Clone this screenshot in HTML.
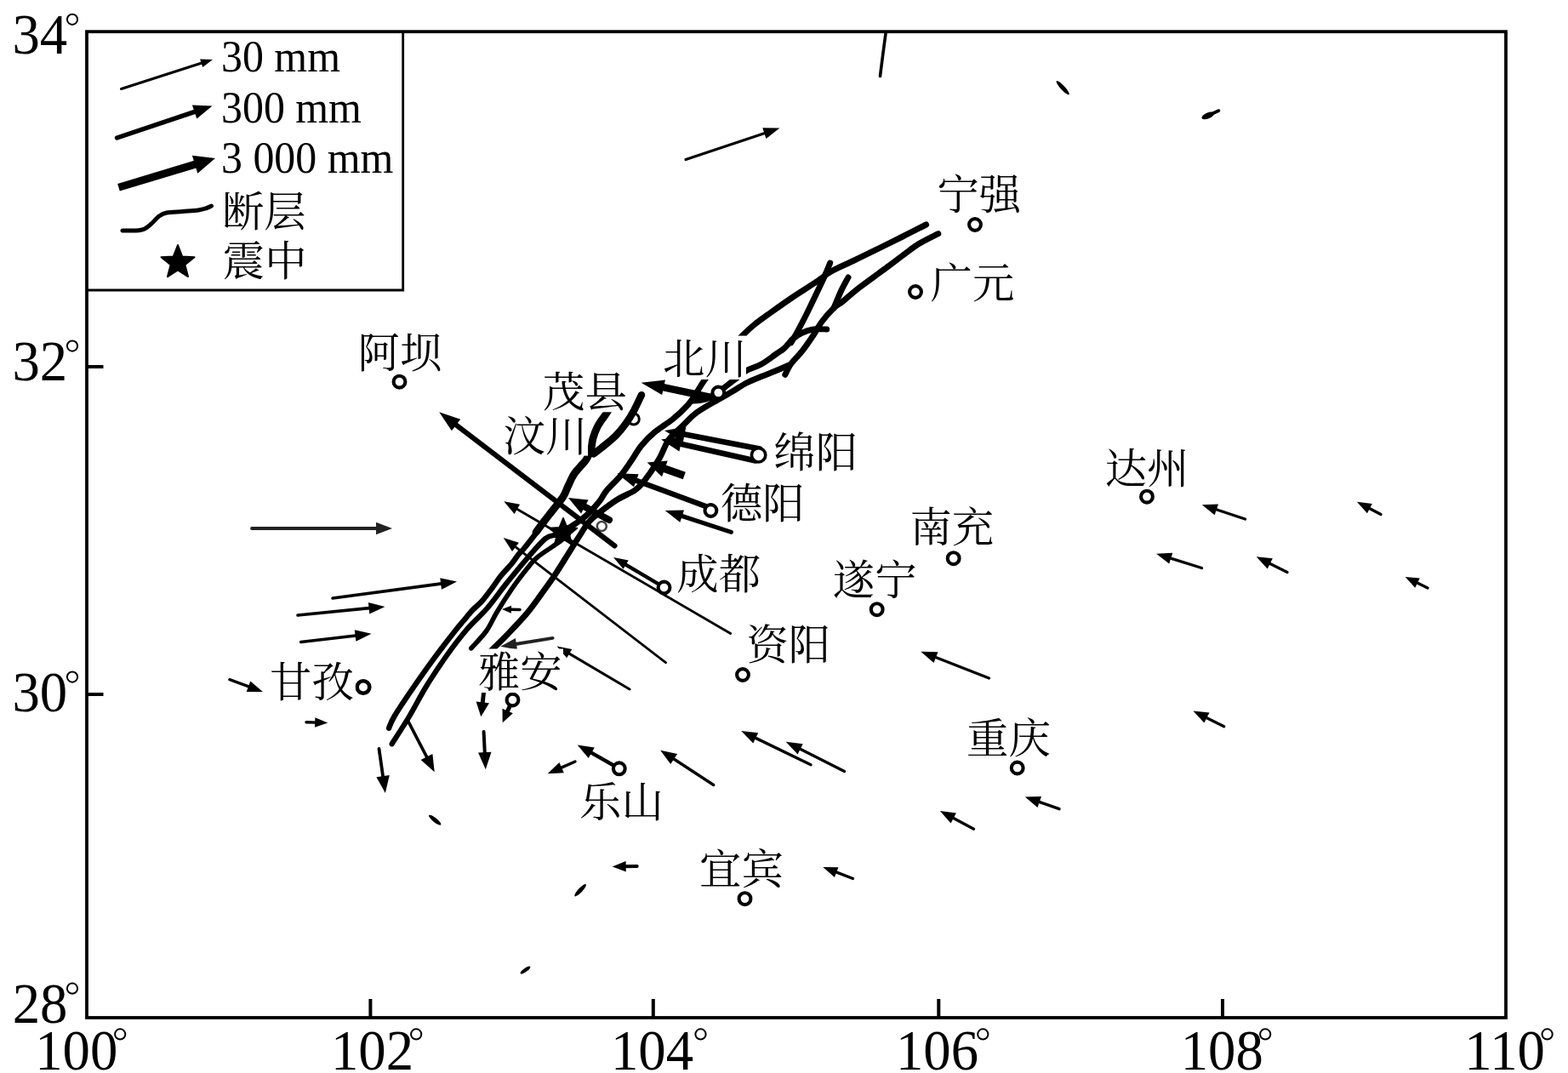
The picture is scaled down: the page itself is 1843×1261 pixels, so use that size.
<!DOCTYPE html>
<html><head><meta charset="utf-8"><title>GPS displacement map</title><style>html,body{margin:0;padding:0;background:#fff}svg{display:block}</style></head><body><svg width="1843" height="1261" viewBox="0 0 1843 1261"><defs><filter id="soft" x="0" y="0" width="1843" height="1261" filterUnits="userSpaceOnUse"><feGaussianBlur stdDeviation="0.7"/></filter></defs><rect x="102" y="37.2" width="1668" height="1158.8" fill="none" stroke="#000" stroke-width="3.8"/>
<line x1="103" y1="431" x2="121.5" y2="431" stroke="#000" stroke-width="4"/>
<line x1="103" y1="816" x2="121.5" y2="816" stroke="#000" stroke-width="4"/>
<line x1="435.4" y1="1174" x2="435.4" y2="1195" stroke="#000" stroke-width="4"/>
<line x1="767.8" y1="1174" x2="767.8" y2="1195" stroke="#000" stroke-width="4"/>
<line x1="1103.3" y1="1174" x2="1103.3" y2="1195" stroke="#000" stroke-width="4"/>
<line x1="1437" y1="1174" x2="1437" y2="1195" stroke="#000" stroke-width="4"/>
<text x="0" y="0" transform="translate(14.4,63.2) scale(0.952,1)" font-size="68" font-family="'Liberation Serif',serif" fill="#000">34</text>
<circle cx="85.0" cy="22.8" r="6.1" fill="none" stroke="#000" stroke-width="2.0"/>
<text x="0" y="0" transform="translate(14.4,447.3) scale(0.952,1)" font-size="68" font-family="'Liberation Serif',serif" fill="#000">32</text>
<circle cx="85.0" cy="406.6" r="6.1" fill="none" stroke="#000" stroke-width="2.0"/>
<text x="0" y="0" transform="translate(14.4,836.0) scale(0.952,1)" font-size="68" font-family="'Liberation Serif',serif" fill="#000">30</text>
<circle cx="85.0" cy="795.6" r="6.1" fill="none" stroke="#000" stroke-width="2.0"/>
<text x="0" y="0" transform="translate(14.7,1202.0) scale(0.952,1)" font-size="68" font-family="'Liberation Serif',serif" fill="#000">28</text>
<circle cx="85.0" cy="1161.7" r="6.1" fill="none" stroke="#000" stroke-width="2.0"/>
<text x="0" y="0" transform="translate(41.2,1256.5) scale(0.952,1)" font-size="68" font-family="'Liberation Serif',serif" fill="#000">100</text>
<circle cx="141.2" cy="1215.4" r="6.1" fill="none" stroke="#000" stroke-width="2.0"/>
<text x="0" y="0" transform="translate(389.0,1256.5) scale(0.952,1)" font-size="68" font-family="'Liberation Serif',serif" fill="#000">102</text>
<circle cx="489.2" cy="1215.4" r="6.1" fill="none" stroke="#000" stroke-width="2.0"/>
<text x="0" y="0" transform="translate(718.0,1256.5) scale(0.952,1)" font-size="68" font-family="'Liberation Serif',serif" fill="#000">104</text>
<circle cx="823.5" cy="1215.4" r="6.1" fill="none" stroke="#000" stroke-width="2.0"/>
<text x="0" y="0" transform="translate(1053.0,1256.5) scale(0.952,1)" font-size="68" font-family="'Liberation Serif',serif" fill="#000">106</text>
<circle cx="1155.3" cy="1215.4" r="6.1" fill="none" stroke="#000" stroke-width="2.0"/>
<text x="0" y="0" transform="translate(1387.7,1256.5) scale(0.952,1)" font-size="68" font-family="'Liberation Serif',serif" fill="#000">108</text>
<circle cx="1487.2" cy="1215.4" r="6.1" fill="none" stroke="#000" stroke-width="2.0"/>
<text x="0" y="0" transform="translate(1721.3,1256.5) scale(0.952,1)" font-size="68" font-family="'Liberation Serif',serif" fill="#000">110</text>
<circle cx="1818.6" cy="1215.4" r="6.1" fill="none" stroke="#000" stroke-width="2.0"/>
<path d="M473.7,37 L473.7,341 L102,341" fill="none" stroke="#000" stroke-width="2.8"/>
<line x1="142.5" y1="104.5" x2="238.7" y2="73.6" stroke="#000" stroke-width="3.1" stroke-linecap="round"/><polygon points="250.0,70.0 238.2,79.0 235.1,69.5" fill="#000"/>
<line x1="137.5" y1="162.0" x2="231.8" y2="130.4" stroke="#000" stroke-width="5.4" stroke-linecap="round"/><polygon points="249.5,124.5 231.3,139.5 225.9,123.4" fill="#000"/>
<line x1="139.5" y1="220.3" x2="232.7" y2="192.1" stroke="#000" stroke-width="9" stroke-linecap="butt"/><polygon points="253.0,186.0 232.3,203.8 225.9,182.7" fill="#000"/>
<path d="M144.0,271.0 C146.7,271.0 155.7,271.3 160.0,271.0 C164.3,270.7 166.8,270.5 170.0,269.0 C173.2,267.5 176.2,264.5 179.0,262.0 C181.8,259.5 184.2,256.0 187.0,254.0 C189.8,252.0 191.3,250.9 196.0,250.0 C200.7,249.1 208.8,249.0 215.0,248.5 C221.2,248.0 228.3,247.7 233.0,247.0 C237.7,246.3 240.4,245.3 243.0,244.5 C245.6,243.7 247.6,242.4 248.5,242.0" fill="none" stroke="#000" stroke-width="5" stroke-linecap="round" stroke-linejoin="round"/>
<polygon points="209.0,288.0 214.2,301.4 228.5,302.2 217.4,311.2 221.0,325.1 209.0,317.3 197.0,325.1 200.6,311.2 189.5,302.2 203.8,301.4" fill="#000" stroke="#000" stroke-width="2" stroke-linejoin="round"/>
<text x="0" y="0" transform="translate(260,83.7) scale(0.956,1)" font-size="52.2" font-family="'Liberation Serif',serif" fill="#000">30 mm</text>
<text x="0" y="0" transform="translate(260,143.7) scale(0.956,1)" font-size="52.2" font-family="'Liberation Serif',serif" fill="#000">300 mm</text>
<text x="0" y="0" transform="translate(260,203) scale(0.956,1)" font-size="52.2" font-family="'Liberation Serif',serif" fill="#000">3 000 mm</text>
<rect x="261.7" y="221.0" width="99.8" height="51.5" fill="#fff"/>
<text x="260.9" y="265.5" font-size="49.4" font-family="'Liberation Serif','Noto Serif CJK SC',serif" fill="#000">断层</text>
<rect x="261.7" y="278.5" width="99.8" height="54.0" fill="#fff"/>
<text x="261.8" y="324.4" font-size="49.4" font-family="'Liberation Serif','Noto Serif CJK SC',serif" fill="#000">震中</text>
<g filter="url(#soft)">
<circle cx="744.8" cy="492.5" r="6.5" fill="#fff" stroke="#000" stroke-width="3"/>
<circle cx="707.3" cy="618.5" r="5.5" fill="none" stroke="#444" stroke-width="2.6"/>
<path d="M1088.6,264.0 C1083.8,266.4 1069.9,273.6 1060.0,278.5 C1050.1,283.4 1038.9,288.9 1029.4,293.6 C1019.9,298.3 1011.7,302.3 1003.0,306.5 C994.3,310.7 984.4,314.8 977.0,319.0 C969.6,323.2 966.5,326.5 958.8,331.7 C951.1,336.9 939.6,343.9 930.6,350.0 C921.6,356.1 912.4,362.7 905.0,368.0 C897.6,373.3 891.5,377.6 886.2,381.9 C880.9,386.2 877.7,389.3 873.0,394.0 C868.3,398.7 863.0,404.3 858.0,410.0 C853.0,415.7 847.9,422.0 843.0,428.0 C838.1,434.0 832.9,440.1 828.6,446.0 C824.3,451.9 820.6,458.6 817.3,463.6 C813.9,468.6 812.9,471.0 808.5,475.8 C804.1,480.6 797.6,487.0 791.0,492.4 C784.4,497.8 775.2,503.0 769.0,508.2 C762.8,513.4 758.3,518.2 753.8,523.8 C749.3,529.4 745.8,535.9 741.8,541.8 C737.8,547.7 734.3,553.2 729.5,559.0 C724.7,564.8 717.1,571.5 713.0,576.5 C708.9,581.5 708.4,584.3 705.0,588.7 C701.6,593.1 696.3,599.0 692.5,602.8 C688.7,606.6 686.1,608.5 682.0,611.5 C677.9,614.5 670.3,619.4 668.0,621.0" fill="none" stroke="#000" stroke-width="7" stroke-linecap="round" stroke-linejoin="round"/>
<path d="M1102.8,274.6 C1099.0,276.6 1087.1,282.2 1080.0,286.6 C1072.9,291.0 1066.1,296.5 1060.0,301.0 C1053.9,305.5 1051.8,307.2 1043.5,313.4 C1035.2,319.6 1018.8,331.2 1010.0,338.0 C1001.2,344.8 995.9,350.0 990.9,354.0 C985.9,358.0 984.1,358.0 980.0,362.0 C975.9,366.0 970.0,372.7 966.0,378.0 C962.0,383.3 959.8,388.3 956.0,394.0 C952.2,399.7 947.3,406.8 943.0,412.4 C938.7,417.9 933.4,422.6 930.0,427.3 C926.6,432.0 924.0,438.1 922.8,440.3" fill="none" stroke="#000" stroke-width="7" stroke-linecap="round" stroke-linejoin="round"/>
<path d="M997.0,326.0 C995.7,328.5 991.8,335.0 989.0,341.0 C986.2,347.0 981.5,358.5 980.0,362.0" fill="none" stroke="#000" stroke-width="7" stroke-linecap="round" stroke-linejoin="round"/>
<path d="M975.7,309.0 C974.6,311.7 971.3,319.8 969.0,325.0 C966.7,330.2 965.6,332.4 962.0,340.0 C958.4,347.6 951.5,362.1 947.3,370.5 C943.1,378.9 939.7,385.2 936.8,390.6 C933.9,396.0 931.0,400.8 929.8,402.8" fill="none" stroke="#000" stroke-width="7" stroke-linecap="round" stroke-linejoin="round"/>
<path d="M971.7,387.0 C969.1,387.0 961.0,386.2 956.0,387.0 C951.0,387.8 946.1,389.6 942.0,391.5 C937.9,393.4 934.1,396.3 931.5,398.5 C928.9,400.7 928.0,402.6 926.3,404.5 C924.5,406.4 923.3,408.1 921.0,410.0 C918.7,411.9 916.8,413.0 912.4,416.0 C908.0,419.0 900.7,424.8 894.9,428.0 C889.1,431.2 882.5,432.7 877.5,435.5 C872.5,438.3 869.2,441.8 865.0,445.0 C860.8,448.2 855.5,452.2 852.0,455.0 C848.5,457.8 847.0,459.4 844.0,461.5 C841.0,463.6 837.7,466.0 834.0,467.5 C830.3,469.0 825.4,469.9 822.0,470.5 C818.6,471.1 814.9,470.9 813.5,471.0" fill="none" stroke="#000" stroke-width="7" stroke-linecap="round" stroke-linejoin="round"/>
<path d="M926.3,429.5 C924.0,430.5 917.6,433.3 912.4,435.5 C907.2,437.7 900.7,440.1 894.9,442.5 C889.1,444.9 883.1,447.1 877.5,450.0 C871.9,452.9 867.4,456.2 861.0,460.0 C854.6,463.8 846.3,468.2 839.0,472.5 C831.7,476.8 823.3,481.4 817.3,486.0 C811.3,490.6 808.2,494.7 803.0,499.8 C797.8,504.9 790.7,510.1 786.0,516.7 C781.3,523.3 779.4,531.3 774.7,539.3 C770.0,547.3 762.4,558.6 757.7,564.7 C753.0,570.8 751.9,572.2 746.5,576.0 C741.1,579.8 732.4,582.8 725.3,587.3 C718.2,591.8 709.6,598.4 704.0,602.8 C698.4,607.2 695.7,609.0 691.7,613.9 C687.7,618.8 683.8,625.7 679.8,631.9 C675.8,638.1 672.2,644.0 667.8,651.0 C663.4,658.0 658.0,666.8 653.4,673.8 C648.8,680.8 645.6,685.3 640.0,693.0 C634.4,700.7 627.4,711.1 620.0,720.0 C612.6,728.9 602.4,739.3 595.7,746.3 C589.0,753.3 584.3,757.6 580.0,761.9 C575.7,766.2 571.7,770.3 570.0,772.0" fill="none" stroke="#000" stroke-width="7" stroke-linecap="round" stroke-linejoin="round"/>
<path d="M722.0,470.0 C720.7,472.3 716.5,480.0 714.0,484.0 C711.5,488.0 709.0,490.8 707.0,493.9 C705.0,496.9 703.5,498.8 701.8,502.3 C700.1,505.8 698.2,510.8 697.0,515.0 C695.8,519.2 696.0,523.6 694.8,527.7 C693.5,531.8 691.2,536.4 689.5,539.4 C687.8,542.4 686.7,543.1 684.5,545.7 C682.3,548.3 678.5,552.2 676.5,554.8 C674.5,557.3 674.1,558.2 672.6,561.0 C671.1,563.8 669.3,567.9 667.5,571.7 C665.7,575.5 664.8,579.4 661.8,584.0 C658.8,588.6 653.4,594.8 649.8,599.5 C646.2,604.2 643.3,607.7 640.0,612.0 C636.7,616.3 631.7,623.2 630.0,625.5" fill="none" stroke="#000" stroke-width="8.8" stroke-linecap="round" stroke-linejoin="round"/>
<path d="M640.0,612.0 C638.4,614.3 634.5,620.6 630.5,626.0 C626.5,631.4 619.5,640.2 616.0,644.5 C612.5,648.8 612.0,648.4 609.5,651.5 C607.0,654.6 604.5,658.8 601.0,663.0 C597.5,667.2 592.2,672.3 588.5,677.0 C584.8,681.7 582.2,686.1 578.5,691.0 C574.8,695.9 570.4,702.2 566.5,706.5 C562.6,710.8 559.1,713.1 555.4,717.0 C551.7,720.9 547.7,726.1 544.4,730.0 C541.1,733.9 541.2,733.4 535.8,740.3 C530.4,747.2 519.9,760.6 511.9,771.4 C503.9,782.2 495.9,793.4 487.9,805.0 C479.9,816.6 469.1,832.5 464.0,841.0 C458.9,849.5 458.2,853.2 457.1,855.7" fill="none" stroke="#000" stroke-width="6.4" stroke-linecap="round" stroke-linejoin="round"/>
<path d="M754.0,464.2 C752.6,467.1 748.4,476.3 745.4,481.9 C742.4,487.4 739.4,492.5 735.8,497.5 C732.2,502.5 728.6,507.1 723.8,511.9 C719.0,516.7 711.4,522.6 707.0,526.2 C702.6,529.8 699.2,532.2 697.6,533.4" fill="none" stroke="#000" stroke-width="8.5" stroke-linecap="round" stroke-linejoin="round"/>
<path d="M668.0,620.0 C665.8,621.3 659.5,625.8 655.0,628.0 C650.5,630.2 647.1,628.1 641.0,633.0 C634.9,637.9 626.2,648.7 618.5,657.5 C610.8,666.3 602.8,676.3 595.0,686.0 C587.2,695.7 579.6,706.7 572.0,715.5 C564.4,724.3 557.1,729.9 549.3,739.0 C541.5,748.1 533.3,758.8 525.3,770.0 C517.3,781.2 508.8,794.0 501.4,806.0 C494.0,818.0 487.8,830.6 481.0,842.0 C474.2,853.4 464.0,868.9 460.6,874.3" fill="none" stroke="#000" stroke-width="6.2" stroke-linecap="round" stroke-linejoin="round"/>
<path d="M668.0,628.0 C666.3,629.4 664.0,632.2 658.0,636.6 C652.0,641.0 638.2,649.4 631.9,654.6 C625.5,659.8 624.9,661.6 619.9,667.8 C614.9,674.0 607.9,683.0 601.9,691.7 C595.9,700.4 588.7,711.7 583.7,720.0 C578.7,728.3 576.7,734.5 571.7,741.5 C566.7,748.5 556.8,758.5 553.8,761.9" fill="none" stroke="#000" stroke-width="5.6" stroke-linecap="round" stroke-linejoin="round"/>
<path d="M1041.0,39.5 C1040.5,43.2 1039.1,53.7 1038.0,62.0 C1036.9,70.3 1035.1,84.9 1034.5,89.5" fill="none" stroke="#000" stroke-width="3.6" stroke-linecap="round" stroke-linejoin="round"/>
<line x1="806.0" y1="187.5" x2="901.1" y2="155.7" stroke="#000" stroke-width="3.2" stroke-linecap="round"/><polygon points="916.4,150.5 900.5,163.0 896.3,150.2" fill="#000"/>
<line x1="296.0" y1="621.0" x2="444.9" y2="621.0" stroke="#222" stroke-width="3.8" stroke-linecap="round"/><polygon points="461.0,621.0 442.0,628.2 442.0,613.8" fill="#222"/>
<line x1="391.0" y1="703.0" x2="521.0" y2="685.6" stroke="#000" stroke-width="3.6" stroke-linecap="round"/><polygon points="537.0,683.5 519.0,692.7 517.3,679.3" fill="#000"/>
<line x1="350.0" y1="723.0" x2="436.4" y2="714.4" stroke="#000" stroke-width="3.6" stroke-linecap="round"/><polygon points="452.5,712.9 434.3,721.4 432.9,708.0" fill="#000"/>
<line x1="353.7" y1="754.5" x2="420.4" y2="746.7" stroke="#000" stroke-width="3.6" stroke-linecap="round"/><polygon points="436.5,744.8 418.4,753.7 416.8,740.3" fill="#000"/>
<line x1="270.0" y1="798.7" x2="294.5" y2="807.7" stroke="#000" stroke-width="3.4" stroke-linecap="round"/><polygon points="308.9,813.0 289.7,813.1 294.3,800.5" fill="#000"/>
<line x1="360.0" y1="848.7" x2="372.5" y2="849.1" stroke="#000" stroke-width="3.4" stroke-linecap="round"/><polygon points="385.2,849.6 370.0,854.8 370.4,843.3" fill="#000"/>
<line x1="445.5" y1="880.0" x2="450.5" y2="915.2" stroke="#000" stroke-width="3.8" stroke-linecap="round"/><polygon points="452.9,932.0 442.4,913.3 457.8,911.1" fill="#000"/>
<line x1="479.9" y1="847.9" x2="502.9" y2="892.2" stroke="#000" stroke-width="3.6" stroke-linecap="round"/><polygon points="510.7,907.3 494.6,893.1 508.4,886.0" fill="#000"/>
<line x1="568.5" y1="814.4" x2="567.0" y2="827.8" stroke="#000" stroke-width="4.9" stroke-linecap="round"/><polygon points="565.3,842.2 559.6,824.4 575.0,826.2" fill="#000"/>
<line x1="568.6" y1="860.0" x2="569.9" y2="887.2" stroke="#000" stroke-width="4.0" stroke-linecap="round"/><polygon points="570.8,904.2 562.1,884.6 577.5,883.8" fill="#000"/>
<line x1="600.0" y1="828.0" x2="595.8" y2="837.6" stroke="#000" stroke-width="4.9" stroke-linecap="round"/><polygon points="590.7,849.3 590.5,832.8 602.9,838.2" fill="#000"/>
<line x1="676.0" y1="895.0" x2="657.6" y2="903.1" stroke="#000" stroke-width="3.4" stroke-linecap="round"/><polygon points="643.6,909.3 657.4,895.9 662.8,908.2" fill="#000"/>
<line x1="727.5" y1="903.0" x2="692.8" y2="883.4" stroke="#000" stroke-width="4.4" stroke-linecap="round"/><polygon points="678.7,875.5 698.8,878.5 691.7,891.1" fill="#000"/>
<line x1="838.7" y1="922.5" x2="789.8" y2="890.5" stroke="#000" stroke-width="3.4" stroke-linecap="round"/><polygon points="776.2,881.7 796.1,886.0 788.2,898.1" fill="#000"/>
<line x1="953.0" y1="898.7" x2="885.7" y2="866.1" stroke="#000" stroke-width="3.4" stroke-linecap="round"/><polygon points="871.2,859.0 891.2,861.3 885.3,873.4" fill="#000"/>
<line x1="992.5" y1="906.5" x2="938.1" y2="879.1" stroke="#000" stroke-width="3.4" stroke-linecap="round"/><polygon points="923.7,871.8 943.7,874.3 937.6,886.4" fill="#000"/>
<line x1="1162.5" y1="797.0" x2="1097.3" y2="771.5" stroke="#000" stroke-width="3.4" stroke-linecap="round"/><polygon points="1082.3,765.7 1102.5,766.3 1097.5,778.9" fill="#000"/>
<line x1="1144.5" y1="974.2" x2="1118.4" y2="960.2" stroke="#000" stroke-width="3.4" stroke-linecap="round"/><polygon points="1104.9,953.0 1123.9,955.5 1117.6,967.4" fill="#000"/>
<line x1="1245.0" y1="950.7" x2="1219.2" y2="941.6" stroke="#000" stroke-width="3.4" stroke-linecap="round"/><polygon points="1204.8,936.5 1224.0,936.1 1219.5,948.9" fill="#000"/>
<line x1="1463.5" y1="610.0" x2="1427.3" y2="598.0" stroke="#000" stroke-width="3.4" stroke-linecap="round"/><polygon points="1412.8,593.2 1432.0,592.5 1427.7,605.3" fill="#000"/>
<line x1="1623.0" y1="604.5" x2="1607.7" y2="596.5" stroke="#000" stroke-width="3.4" stroke-linecap="round"/><polygon points="1594.9,589.8 1612.8,592.1 1607.0,603.2" fill="#000"/>
<line x1="1513.0" y1="672.5" x2="1490.3" y2="661.2" stroke="#000" stroke-width="3.4" stroke-linecap="round"/><polygon points="1476.7,654.3 1495.8,656.3 1489.7,668.4" fill="#000"/>
<line x1="1678.0" y1="691.0" x2="1663.9" y2="684.0" stroke="#000" stroke-width="3.4" stroke-linecap="round"/><polygon points="1651.7,678.0 1668.8,679.5 1663.3,690.7" fill="#000"/>
<line x1="1412.5" y1="667.5" x2="1373.7" y2="655.3" stroke="#000" stroke-width="3.4" stroke-linecap="round"/><polygon points="1359.1,650.8 1378.3,649.7 1374.2,662.6" fill="#000"/>
<line x1="1438.7" y1="853.7" x2="1416.0" y2="842.4" stroke="#000" stroke-width="3.4" stroke-linecap="round"/><polygon points="1402.4,835.5 1421.5,837.5 1415.4,849.6" fill="#000"/>
<line x1="1002.5" y1="1032.5" x2="980.8" y2="1024.1" stroke="#000" stroke-width="3.4" stroke-linecap="round"/><polygon points="967.3,1019.0 985.4,1019.2 980.9,1030.9" fill="#000"/>
<line x1="748.7" y1="1018.0" x2="733.3" y2="1018.3" stroke="#000" stroke-width="4.0" stroke-linecap="round"/><polygon points="719.7,1018.5 735.6,1012.0 735.8,1024.5" fill="#000"/>
<line x1="649.6" y1="749.9" x2="604.2" y2="757.2" stroke="#222" stroke-width="4.0" stroke-linecap="round"/><polygon points="588.2,759.7 605.9,750.1 608.0,763.4" fill="#222"/>
<line x1="611.0" y1="716.5" x2="599.3" y2="716.2" stroke="#000" stroke-width="3.6" stroke-linecap="round"/><polygon points="590.0,716.0 601.1,711.8 600.9,720.8" fill="#000"/>
<line x1="858.7" y1="744.5" x2="605.5" y2="597.0" stroke="#000" stroke-width="2.8" stroke-linecap="round"/><polygon points="592.3,589.3 611.1,592.7 604.6,604.0" fill="#000"/>
<line x1="782.5" y1="778.7" x2="603.8" y2="641.2" stroke="#000" stroke-width="2.8" stroke-linecap="round"/><polygon points="591.7,631.9 609.9,637.7 602.0,648.0" fill="#000"/>
<line x1="740.0" y1="810.0" x2="667.0" y2="766.9" stroke="#000" stroke-width="3" stroke-linecap="round"/><polygon points="654.6,759.5 672.3,763.0 666.2,773.3" fill="#000"/>
<line x1="781.0" y1="690.5" x2="733.4" y2="662.4" stroke="#000" stroke-width="4.4" stroke-linecap="round"/><polygon points="721.0,655.0 738.7,658.5 732.6,668.8" fill="#000"/>
<line x1="722.5" y1="641.5" x2="533.1" y2="497.2" stroke="#000" stroke-width="6" stroke-linecap="round"/><polygon points="516.2,484.3 541.2,492.7 530.9,506.2" fill="#000"/>
<line x1="716.0" y1="611.0" x2="684.4" y2="593.9" stroke="#000" stroke-width="8" stroke-linecap="round"/><polygon points="668.0,585.0 691.6,587.6 683.1,603.4" fill="#000"/>
<line x1="804.3" y1="559.0" x2="778.2" y2="549.8" stroke="#000" stroke-width="9" stroke-linecap="butt"/><polygon points="760.6,543.5 784.7,541.4 778.0,560.3" fill="#000"/>
<line x1="835.4" y1="597.3" x2="744.4" y2="563.4" stroke="#000" stroke-width="6.4" stroke-linecap="round"/><polygon points="725.3,556.3 750.6,557.2 745.0,572.2" fill="#000"/>
<line x1="859.4" y1="625.4" x2="798.7" y2="605.5" stroke="#000" stroke-width="5" stroke-linecap="round"/><polygon points="781.7,600.0 804.0,599.4 799.3,613.7" fill="#000"/>
<line x1="893.0" y1="527.5" x2="801.0" y2="509.8" stroke="#000" stroke-width="6.6" stroke-linecap="round"/><polygon points="781.0,506.0 806.3,501.7 802.9,519.4" fill="#000"/>
<line x1="888.0" y1="541.5" x2="796.9" y2="521.0" stroke="#000" stroke-width="6.6" stroke-linecap="round"/><polygon points="777.0,516.5 802.4,513.0 798.4,530.6" fill="#000"/>
<line x1="838.0" y1="467.5" x2="776.1" y2="454.4" stroke="#000" stroke-width="8.5" stroke-linecap="round"/><polygon points="753.6,449.7 781.9,446.5 778.2,464.1" fill="#000"/>
<ellipse cx="1249.2" cy="103.2" rx="10.9" ry="2.5" transform="rotate(47.0 1249.2 103.2)" fill="#000"/>
<ellipse cx="1419.8" cy="135.9" rx="7.8" ry="3.5" transform="rotate(-23.4 1419.8 135.9)" fill="#000"/>
<path d="M1424.0,134.0 L1432.5,130.0" fill="none" stroke="#000" stroke-width="3.6" stroke-linecap="round" stroke-linejoin="round"/>
<ellipse cx="511.2" cy="963.7" rx="9.0" ry="2.5" transform="rotate(38.7 511.2 963.7)" fill="#000"/>
<ellipse cx="682.1" cy="1046.2" rx="9.6" ry="2.5" transform="rotate(-46.7 682.1 1046.2)" fill="#000"/>
<ellipse cx="617.5" cy="1140.0" rx="7.1" ry="2.2" transform="rotate(-35.0 617.5 1140.0)" fill="#000"/>
<polygon points="662.0,609.0 666.4,619.9 678.2,620.7 669.1,628.3 672.0,639.8 662.0,633.5 652.0,639.8 654.9,628.3 645.8,620.7 657.6,619.9" fill="#000" stroke="#000" stroke-width="2" stroke-linejoin="round"/>
<circle cx="1146.0" cy="264.0" r="6.9" fill="#fff" stroke="#000" stroke-width="4.1"/>
<circle cx="1076.0" cy="343.0" r="6.9" fill="#fff" stroke="#000" stroke-width="4.1"/>
<circle cx="469.5" cy="448.7" r="6.9" fill="#fff" stroke="#000" stroke-width="4.1"/>
<circle cx="1348.0" cy="583.7" r="6.9" fill="#fff" stroke="#000" stroke-width="4.1"/>
<circle cx="1120.7" cy="656.2" r="6.9" fill="#fff" stroke="#000" stroke-width="4.1"/>
<circle cx="1030.7" cy="716.2" r="6.9" fill="#fff" stroke="#000" stroke-width="4.1"/>
<circle cx="873.0" cy="793.0" r="6.9" fill="#fff" stroke="#000" stroke-width="4.1"/>
<circle cx="780.5" cy="690.5" r="6.9" fill="#fff" stroke="#000" stroke-width="4.1"/>
<circle cx="1195.7" cy="902.5" r="6.9" fill="#fff" stroke="#000" stroke-width="4.1"/>
<circle cx="727.8" cy="903.3" r="6.9" fill="#fff" stroke="#000" stroke-width="4.1"/>
<circle cx="875.5" cy="1056.2" r="6.9" fill="#fff" stroke="#000" stroke-width="4.1"/>
<circle cx="602.5" cy="822.5" r="6.9" fill="#fff" stroke="#000" stroke-width="4.1"/>
<circle cx="835.4" cy="600.0" r="6.9" fill="#fff" stroke="#000" stroke-width="4.1"/>
<circle cx="844.3" cy="461.5" r="6.9" fill="#fff" stroke="#000" stroke-width="4.1"/>
<circle cx="427.0" cy="807.5" r="7.3" fill="#fff" stroke="#000" stroke-width="4.6"/>
<circle cx="891.6" cy="534.8" r="8.2" fill="#fff" stroke="#000" stroke-width="3.6"/>
</g>
<rect x="1101.7" y="200.5" width="100.3" height="53.3" fill="#fff"/>
<text x="1101.4" y="246.0" font-size="49.4" font-family="'Liberation Serif','Noto Serif CJK SC',serif" fill="#000">宁强</text>
<rect x="1093.0" y="304.2" width="102.0" height="53.6" fill="#fff"/>
<text x="1093.6" y="349.9" font-size="49.4" font-family="'Liberation Serif','Noto Serif CJK SC',serif" fill="#000">广元</text>
<rect x="422.5" y="387.0" width="99.5" height="52.3" fill="#fff"/>
<text x="420.6" y="431.6" font-size="49.4" font-family="'Liberation Serif','Noto Serif CJK SC',serif" fill="#000">阿坝</text>
<rect x="779.0" y="394.6" width="98.0" height="51.4" fill="#fff"/>
<text x="779.1" y="439.0" font-size="49.4" font-family="'Liberation Serif','Noto Serif CJK SC',serif" fill="#000">北川</text>
<rect x="636.0" y="433.0" width="101.0" height="51.3" fill="#fff"/>
<text x="638.1" y="477.7" font-size="49.4" font-family="'Liberation Serif','Noto Serif CJK SC',serif" fill="#000">茂县</text>
<rect x="590.0" y="484.3" width="101.0" height="51.3" fill="#fff"/>
<text x="591.6" y="530.2" font-size="49.4" font-family="'Liberation Serif','Noto Serif CJK SC',serif" fill="#000">汶川</text>
<rect x="910.5" y="503.5" width="97.2" height="52.8" fill="#fff"/>
<text x="909.3" y="548.9" font-size="49.4" font-family="'Liberation Serif','Noto Serif CJK SC',serif" fill="#000">绵阳</text>
<rect x="848.0" y="564.7" width="97.0" height="51.6" fill="#fff"/>
<text x="846.9" y="609.4" font-size="49.4" font-family="'Liberation Serif','Noto Serif CJK SC',serif" fill="#000">德阳</text>
<rect x="795.0" y="647.0" width="101.5" height="52.8" fill="#fff"/>
<text x="795.3" y="692.1" font-size="49.4" font-family="'Liberation Serif','Noto Serif CJK SC',serif" fill="#000">成都</text>
<rect x="1070.5" y="592.0" width="99.5" height="52.8" fill="#fff"/>
<text x="1069.4" y="637.4" font-size="49.4" font-family="'Liberation Serif','Noto Serif CJK SC',serif" fill="#000">南充</text>
<rect x="979.0" y="653.5" width="100.0" height="52.8" fill="#fff"/>
<text x="978.8" y="698.8" font-size="49.4" font-family="'Liberation Serif','Noto Serif CJK SC',serif" fill="#000">遂宁</text>
<rect x="879.0" y="729.7" width="97.5" height="52.8" fill="#fff"/>
<text x="877.4" y="775.2" font-size="49.4" font-family="'Liberation Serif','Noto Serif CJK SC',serif" fill="#000">资阳</text>
<rect x="560.0" y="762.5" width="102.0" height="51.5" fill="#fff"/>
<text x="561.9" y="806.7" font-size="49.4" font-family="'Liberation Serif','Noto Serif CJK SC',serif" fill="#000">雅安</text>
<rect x="318.0" y="773.5" width="99.7" height="52.8" fill="#fff"/>
<text x="317.0" y="818.7" font-size="49.4" font-family="'Liberation Serif','Noto Serif CJK SC',serif" fill="#000">甘孜</text>
<rect x="681.7" y="916.0" width="97.3" height="50.3" fill="#fff"/>
<text x="681.0" y="959.8" font-size="49.4" font-family="'Liberation Serif','Noto Serif CJK SC',serif" fill="#000">乐山</text>
<rect x="1136.7" y="839.7" width="99.8" height="52.8" fill="#fff"/>
<text x="1136.0" y="885.1" font-size="49.4" font-family="'Liberation Serif','Noto Serif CJK SC',serif" fill="#000">重庆</text>
<rect x="1298.0" y="523.5" width="99.7" height="51.3" fill="#fff"/>
<text x="1298.7" y="568.0" font-size="49.4" font-family="'Liberation Serif','Noto Serif CJK SC',serif" fill="#000">达州</text>
<rect x="823.0" y="993.5" width="99.0" height="52.8" fill="#fff"/>
<text x="822.0" y="1039.0" font-size="49.4" font-family="'Liberation Serif','Noto Serif CJK SC',serif" fill="#000">宜宾</text></svg></body></html>
